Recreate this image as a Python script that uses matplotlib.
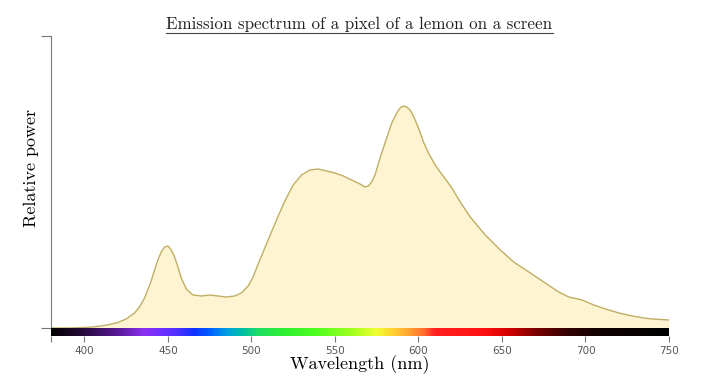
import numpy as np
import matplotlib
matplotlib.use("Agg")
import matplotlib.pyplot as plt
from matplotlib.colors import LinearSegmentedColormap
from matplotlib.lines import Line2D

# spectrum (nm, relative power)
wavelength = [380, 390, 400, 405, 410, 415, 420, 425, 430, 433, 436, 440, 442, 444,
              446, 448, 450, 452, 454, 456, 458, 461, 465, 470, 475, 480, 485, 490,
              494, 498, 501, 505, 510, 515, 520, 525, 530, 535, 540, 545, 550, 555,
              560, 565, 568, 570, 572, 574, 577, 581, 584, 587, 589, 591, 593, 595,
              597, 600, 603, 606, 610, 613, 617, 620, 625, 631, 640, 649, 657, 667,
              675, 684, 690, 698, 705, 712, 720, 728, 735, 740, 745, 750]
power = [0, 0, 0.5, 1, 2, 3.5, 5.5, 9, 15, 21, 30, 47, 58, 68,
         76, 81, 82, 78, 71, 61, 50, 39, 33, 32, 33, 32, 31, 32,
         35, 42, 51, 68, 88, 108, 127, 143, 153, 158, 159, 157, 155, 152,
         148, 144, 141, 142, 146, 153, 170, 190, 205, 215, 220, 222, 221, 218,
         212, 200, 186, 175, 163, 156, 147, 140, 126, 111, 93, 78, 66, 55,
         46, 36, 31, 28, 23, 19, 15, 12, 10, 9, 8.5, 8]

tick_values = [380, 400, 450, 500, 550, 600, 650, 700, 750]
tick_labels = ["", "400", "450", "500", "550", "600", "650", "700", "750"]

# colours of the visible spectrum strip
band_nm = [380, 400, 420, 435, 445, 455, 465, 475, 485, 495, 505, 520, 540, 560,
           575, 585, 595, 603, 610, 640, 655, 670, 690, 710, 750]
band_colors = ["#000000", "#2a0a40", "#5a1a9a", "#8a30f0", "#7030ff", "#5030ff",
               "#1030ff", "#0060ff", "#00a0e0", "#00c0a0", "#20e060", "#30f030",
               "#50ff20", "#a0ff20", "#f0ff30", "#ffd030", "#ffa030", "#ff7030",
               "#ff2020", "#ff1010", "#d00000", "#800000", "#300000", "#100000",
               "#000000"]

serif = "cmr10"
plt.rcParams["axes.formatter.use_mathtext"] = True

fig = plt.figure(figsize=(7.09, 3.92), dpi=100)
ax = fig.add_axes([51 / 709, 1 - 336 / 392, 618 / 709, 300 / 392])

band_h = 8
ymax = 292
ax.set_xlim(380, 750)
ax.set_ylim(-band_h, ymax)

ax.fill_between(wavelength, 0, power, color="#fef4d2", lw=0)
ax.plot(wavelength, power, color="#bfae62", lw=1.0)

stops = [(w - 380) / 370 for w in band_nm]
cmap = LinearSegmentedColormap.from_list("spec", list(zip(stops, band_colors)))
ax.imshow(np.linspace(0, 1, 512)[None, :], cmap=cmap, aspect="auto",
          extent=[380, 750, -band_h, 0], zorder=3)

for s in ["top", "right", "bottom"]:
    ax.spines[s].set_visible(False)
ax.spines["left"].set_color("#777777")
ax.spines["left"].set_bounds(0, ymax)
ax.set_yticks([0, ymax])
ax.set_yticklabels([])
ax.tick_params(axis="y", length=7, color="#777777")

ax.set_xticks(tick_values)
ax.set_xticklabels(tick_labels)
ax.tick_params(axis="x", length=4, color="#777777", labelcolor="#555555",
               labelsize=7.5, pad=3)

ax.set_xlabel("Wavelength (nm)", family=serif, fontsize=13, labelpad=0)
ax.set_ylabel("Relative power", family=serif, fontsize=13)
ax.yaxis.set_label_coords(-0.019, 0.56)

title = fig.text(0.507, 1 - 24 / 392, "Emission spectrum of a pixel of a lemon on a screen",
                 family=serif, fontsize=12.2, ha="center", va="center", color="#222222")

# underline the title
fig.canvas.draw()
bb = title.get_window_extent().transformed(fig.transFigure.inverted())
fig.add_artist(Line2D([bb.x0, bb.x1], [1 - 33 / 392] * 2, color="#444444", lw=0.8))

fig.savefig("out.png", dpi=100)
